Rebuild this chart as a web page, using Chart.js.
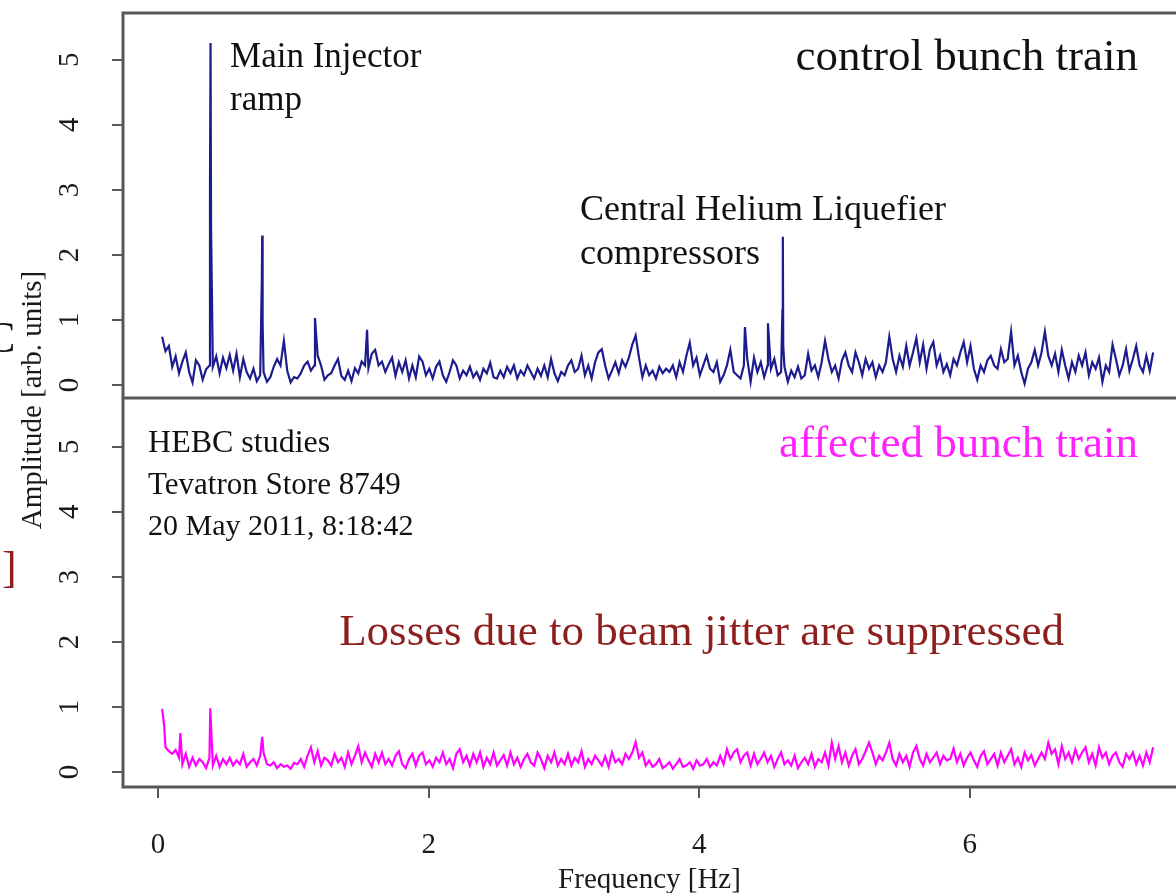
<!DOCTYPE html>
<html lang="en">
<head>
<meta charset="UTF-8">
<title>Bunch train loss spectra</title>
<script src="https://cdn.jsdelivr.net/npm/chart.js"></script>
<style>
  html, body { margin: 0; padding: 0; background: #fff; overflow: hidden; }
  .wrap { position: relative; width: 1176px; height: 893px; }
  .wrap canvas { position: absolute; left: 0; top: 0; }
</style>
</head>
<body>
<div class="wrap">
  <canvas id="top-chart" width="1176" height="893"></canvas>
  <canvas id="bottom-chart" width="1176" height="893"></canvas>
</div>
<script>
// frequency grid of the spectra (Hz)
const freqStart = 0.03;
const freqStep = 0.025;

// control bunch train: background spectrum on the grid
const controlNoise = [
  0.74,0.52,0.6,0.28,0.44,0.18,0.36,0.5,0.2,0.04,
  0.38,0.3,0.08,0.24,0.3,0.28,0.44,0.18,0.42,0.26,
  0.46,0.22,0.48,0.12,0.4,0.2,0.1,0.25,0.06,0.15,
  0.2,0.05,0.12,0.28,0.4,0.3,0.68,0.22,0.04,0.12,
  0.1,0.18,0.3,0.36,0.22,0.3,0.45,0.3,0.08,0.15,
  0.18,0.3,0.4,0.14,0.08,0.22,0.06,0.26,0.18,0.36,
  0.3,0.26,0.48,0.54,0.3,0.36,0.2,0.32,0.42,0.14,
  0.35,0.2,0.38,0.1,0.3,0.12,0.44,0.36,0.15,0.25,
  0.1,0.28,0.36,0.15,0.05,0.2,0.38,0.3,0.1,0.22,
  0.15,0.28,0.12,0.2,0.08,0.25,0.18,0.34,0.12,0.1,
  0.22,0.12,0.28,0.18,0.3,0.1,0.22,0.15,0.3,0.2,
  0.1,0.25,0.14,0.3,0.12,0.4,0.18,0.06,0.2,0.15,
  0.3,0.38,0.2,0.25,0.45,0.15,0.3,0.1,0.35,0.5,
  0.55,0.3,0.1,0.22,0.35,0.18,0.38,0.28,0.42,0.62,
  0.76,0.42,0.12,0.3,0.15,0.22,0.1,0.28,0.18,0.25,
  0.2,0.3,0.12,0.35,0.2,0.45,0.65,0.3,0.42,0.15,
  0.3,0.45,0.25,0.2,0.35,0.05,0.15,0.3,0.54,0.2,
  0.15,0.1,0.3,0.4,0.05,0.42,0.2,0.35,0.12,0.3,
  0.25,0.4,0.15,0.2,0.28,0.05,0.22,0.12,0.28,0.1,
  0.15,0.48,0.22,0.3,0.12,0.35,0.68,0.4,0.2,0.3,
  0.1,0.38,0.5,0.3,0.2,0.5,0.35,0.15,0.4,0.25,
  0.35,0.12,0.3,0.2,0.35,0.74,0.4,0.2,0.45,0.28,
  0.6,0.3,0.5,0.72,0.35,0.62,0.25,0.55,0.66,0.3,
  0.45,0.2,0.32,0.15,0.4,0.3,0.5,0.66,0.35,0.6,
  0.25,0.08,0.3,0.2,0.38,0.45,0.3,0.25,0.55,0.35,
  0.4,0.82,0.3,0.45,0.2,0.02,0.25,0.35,0.54,0.3,
  0.5,0.82,0.45,0.3,0.48,0.2,0.54,0.3,0.1,0.35,
  0.2,0.45,0.3,0.5,0.15,0.35,0.25,0.42,0.05,0.3,
  0.2,0.62,0.4,0.15,0.3,0.55,0.22,0.4,0.6,0.3,
  0.2,0.45,0.22,0.5
];
// narrow lines on top of it (MI ramp, harmonics, CHL compressors)
const controlPeakFreq = [0.384, 0.388, 0.392, 0.767, 0.770, 0.773, 1.16, 1.545, 4.338, 4.508, 4.615, 4.618, 4.621];
const controlPeakAmp  = [3.05, 5.26, 2.4, 1.6, 2.3, 0.95, 1.03, 0.85, 0.89, 0.95, 1.15, 2.28, 0.6];

// affected bunch train
const affectedNoise = [
  0.97,0.38,0.32,0.28,0.34,0.22,0.12,0.28,0.08,0.22,
  0.1,0.2,0.15,0.06,0.22,0.1,0.25,0.08,0.2,0.12,
  0.22,0.1,0.18,0.12,0.28,0.08,0.15,0.2,0.1,0.25,
  0.3,0.12,0.1,0.15,0.06,0.12,0.08,0.1,0.05,0.14,
  0.12,0.2,0.08,0.25,0.38,0.15,0.32,0.1,0.22,0.18,
  0.1,0.28,0.15,0.22,0.08,0.3,0.12,0.25,0.4,0.15,
  0.3,0.18,0.08,0.28,0.15,0.3,0.12,0.2,0.1,0.25,
  0.32,0.12,0.06,0.2,0.28,0.1,0.25,0.3,0.12,0.18,
  0.08,0.22,0.15,0.3,0.12,0.2,0.06,0.28,0.35,0.15,
  0.25,0.1,0.28,0.15,0.3,0.08,0.22,0.12,0.3,0.1,
  0.18,0.26,0.1,0.3,0.12,0.22,0.08,0.2,0.28,0.15,
  0.1,0.3,0.2,0.06,0.25,0.15,0.3,0.1,0.2,0.12,
  0.28,0.1,0.22,0.15,0.32,0.08,0.2,0.12,0.25,0.18,
  0.1,0.24,0.08,0.3,0.15,0.2,0.12,0.28,0.2,0.3,
  0.46,0.22,0.3,0.1,0.18,0.08,0.12,0.2,0.06,0.1,
  0.15,0.05,0.12,0.2,0.08,0.1,0.15,0.05,0.18,0.1,
  0.12,0.2,0.08,0.15,0.1,0.25,0.12,0.35,0.2,0.3,
  0.35,0.15,0.25,0.3,0.1,0.28,0.12,0.2,0.3,0.15,
  0.25,0.08,0.2,0.3,0.12,0.18,0.1,0.25,0.06,0.15,
  0.22,0.12,0.28,0.08,0.2,0.15,0.3,0.1,0.45,0.2,
  0.4,0.15,0.3,0.1,0.25,0.35,0.12,0.2,0.32,0.45,
  0.3,0.12,0.25,0.18,0.3,0.45,0.2,0.1,0.28,0.15,
  0.25,0.08,0.3,0.4,0.2,0.1,0.28,0.15,0.22,0.3,
  0.12,0.25,0.18,0.2,0.36,0.15,0.28,0.1,0.22,0.3,
  0.18,0.08,0.25,0.32,0.12,0.2,0.28,0.1,0.3,0.15,
  0.25,0.35,0.12,0.22,0.08,0.3,0.18,0.26,0.1,0.2,
  0.3,0.2,0.45,0.28,0.35,0.12,0.4,0.2,0.3,0.15,
  0.35,0.2,0.3,0.38,0.15,0.28,0.1,0.38,0.22,0.3,
  0.12,0.25,0.3,0.15,0.08,0.28,0.2,0.3,0.12,0.25,
  0.1,0.3,0.15,0.38
];
const affectedPeakFreq = [0.045, 0.165, 0.386, 0.77];
const affectedPeakAmp  = [0.72, 0.6, 0.98, 0.54];

const yTicks = [0, 1, 2, 3, 4, 5];
const xRange = [-0.259, 7.524];

// text placed in data coordinates of each panel
const notes = [
  { panel: 'top', text: 'Main Injector', f: 0.532, a: 4.89, size: 35, color: '#111', align: 'left' },
  { panel: 'top', text: 'ramp', f: 0.532, a: 4.23, size: 35, color: '#111', align: 'left' },
  { panel: 'top', text: 'control bunch train', f: 7.243, a: 4.84, size: 45, color: '#111', align: 'right' },
  { panel: 'top', text: 'Central Helium Liquefier', f: 3.119, a: 2.54, size: 36, color: '#111', align: 'left' },
  { panel: 'top', text: 'compressors', f: 3.119, a: 1.86, size: 36, color: '#111', align: 'left' },
  { panel: 'bottom', text: 'HEBC studies', f: -0.074, a: 4.92, size: 32, color: '#111', align: 'left' },
  { panel: 'bottom', text: 'Tevatron Store 8749', f: -0.074, a: 4.27, size: 31, color: '#111', align: 'left' },
  { panel: 'bottom', text: '20 May 2011, 8:18:42', f: -0.074, a: 3.64, size: 30, color: '#111', align: 'left' },
  { panel: 'bottom', text: 'affected bunch train', f: 7.243, a: 4.84, size: 45, color: '#ff22ff', align: 'right' },
  { panel: 'bottom', text: 'Losses due to beam jitter are suppressed', f: 4.017, a: 1.95, size: 45, color: '#8e1f1f', align: 'center' }
];

const FONT = '"Liberation Serif", "Times New Roman", serif';
const FRAME = '#585858';

function buildSeries(noise, peakFreq, peakAmp) {
  const pts = noise.map((a, i) => ({ x: freqStart + i * freqStep, y: a }));
  peakFreq.forEach((f, i) => pts.push({ x: f, y: peakAmp[i] }));
  return pts.sort((p, q) => p.x - q.x);
}

// frame, rotated y labels and text notes
const panelDecor = {
  id: 'panelDecor',
  afterDraw(chart, args, opts) {
    const ctx = chart.ctx;
    const area = chart.chartArea;
    const xs = chart.scales.x, ys = chart.scales.y;
    ctx.save();
    ctx.strokeStyle = FRAME;
    ctx.lineWidth = 3;
    ctx.beginPath();
    if (opts.panel === 'top') {
      ctx.moveTo(chart.width, area.top);
      ctx.lineTo(area.left, area.top);
      ctx.lineTo(area.left, area.bottom);
      ctx.lineTo(chart.width, area.bottom);
    } else {
      ctx.moveTo(area.left, area.top);
      ctx.lineTo(area.left, area.bottom);
      ctx.lineTo(chart.width, area.bottom);
    }
    ctx.stroke();

    ctx.fillStyle = '#1a1a1a';
    ctx.font = '29px ' + FONT;
    ctx.textAlign = 'center';
    ctx.textBaseline = 'middle';
    yTicks.forEach(v => {
      ctx.save();
      ctx.translate(70, ys.getPixelForValue(v));
      ctx.rotate(-Math.PI / 2);
      ctx.fillText(String(v), 0, 0);
      ctx.restore();
    });

    ctx.textBaseline = 'alphabetic';
    notes.filter(n => n.panel === opts.panel).forEach(n => {
      ctx.fillStyle = n.color;
      ctx.font = n.size + 'px ' + FONT;
      ctx.textAlign = n.align;
      ctx.fillText(n.text, xs.getPixelForValue(n.f), ys.getPixelForValue(n.a));
    });

    if (opts.panel === 'top') {
      // shared axis title
      ctx.save();
      ctx.fillStyle = '#1a1a1a';
      ctx.font = '29px ' + FONT;
      ctx.textAlign = 'center';
      ctx.textBaseline = 'middle';
      ctx.translate(33, 400);
      ctx.rotate(-Math.PI / 2);
      ctx.fillText('Amplitude [arb. units]', 0, 0);
      ctx.restore();
      // bits of neighbouring slide text at the left edge
      ctx.fillStyle = '#111';
      ctx.font = '44px ' + FONT;
      ctx.textAlign = 'left';
      ctx.fillText('C', -14, 352);
      ctx.fillStyle = '#8e1f1f';
      ctx.fillText(']', 2, 582);
    }
    ctx.restore();
  }
};

function yScale(min, max) {
  return {
    position: 'left',
    min: min,
    max: max,
    afterFit: s => { s.width = 123; },
    ticks: { display: false, stepSize: 1, includeBounds: false },
    grid: { drawOnChartArea: false, drawTicks: true, tickLength: 11, color: FRAME, lineWidth: 2 },
    border: { display: false }
  };
}

const baseOptions = {
  responsive: false,
  animation: false,
  plugins: { legend: { display: false }, tooltip: { enabled: false } },
  elements: { point: { radius: 0 }, line: { tension: 0 } }
};

new Chart(document.getElementById('top-chart'), {
  type: 'line',
  data: {
    datasets: [{
      data: buildSeries(controlNoise, controlPeakFreq, controlPeakAmp),
      borderColor: '#1c1c8e',
      borderWidth: 2.2
    }]
  },
  options: {
    ...baseOptions,
    layout: { padding: { top: 13, bottom: 495, left: 0, right: 0 } },
    plugins: { ...baseOptions.plugins, panelDecor: { panel: 'top' } },
    scales: {
      x: { type: 'linear', display: false, min: xRange[0], max: xRange[1] },
      y: yScale(-0.2, 5.72)
    }
  },
  plugins: [panelDecor]
});

new Chart(document.getElementById('bottom-chart'), {
  type: 'line',
  data: {
    datasets: [{
      data: buildSeries(affectedNoise, affectedPeakFreq, affectedPeakAmp),
      borderColor: '#ff00ff',
      borderWidth: 2.2
    }]
  },
  options: {
    ...baseOptions,
    layout: { padding: { top: 398, bottom: 0, left: 0, right: 0 } },
    plugins: { ...baseOptions.plugins, panelDecor: { panel: 'bottom' } },
    scales: {
      x: {
        type: 'linear',
        position: 'bottom',
        min: xRange[0],
        max: xRange[1],
        afterFit: s => { s.height = 106; },
        ticks: { stepSize: 2, includeBounds: false, padding: 30, color: '#1a1a1a', font: { family: FONT, size: 29 } },
        grid: { drawOnChartArea: false, drawTicks: true, tickLength: 11, color: FRAME, lineWidth: 2 },
        border: { display: false },
        title: {
          display: true,
          text: 'Frequency [Hz]',
          color: '#1a1a1a',
          font: { family: FONT, size: 29, lineHeight: 1 },
          padding: { top: 0, bottom: -2 }
        }
      },
      y: yScale(-0.23, 5.75)
    }
  },
  plugins: [panelDecor]
});
</script>
</body>
</html>
